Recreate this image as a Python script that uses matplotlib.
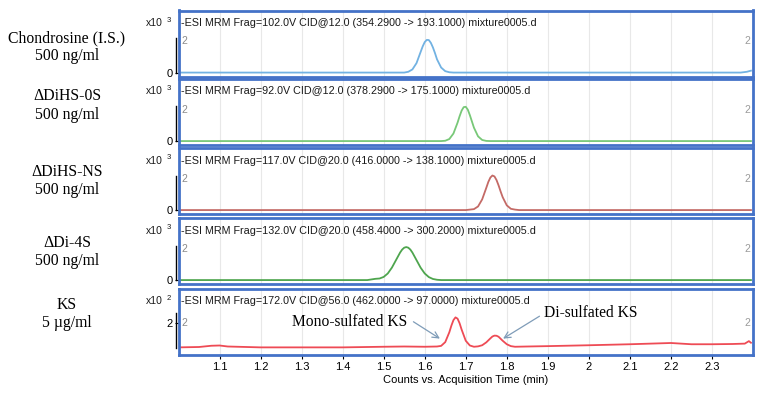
import matplotlib
matplotlib.use("Agg")
import matplotlib.pyplot as plt
import matplotlib.transforms as mtransforms

# ---------------- data ----------------
x_ticks = [1.1, 1.2, 1.3, 1.4, 1.5, 1.6, 1.7, 1.8, 1.9, 2.0, 2.1, 2.2, 2.3]
x_tick_labels = ["1.1", "1.2", "1.3", "1.4", "1.5", "1.6", "1.7", "1.8", "1.9", "2", "2.1", "2.2", "2.3"]

compound_names = ["Chondrosine (I.S.)", "\u0394DiHS-0S", "\u0394DiHS-NS", "\u0394Di-4S", "KS"]
concentrations = ["500 ng/ml", "500 ng/ml", "500 ng/ml", "500 ng/ml", "5 \u00b5g/ml"]
scan_titles = [
    "-ESI MRM Frag=102.0V CID@12.0 (354.2900 -> 193.1000) mixture0005.d",
    "-ESI MRM Frag=92.0V CID@12.0 (378.2900 -> 175.1000) mixture0005.d",
    "-ESI MRM Frag=117.0V CID@20.0 (416.0000 -> 138.1000) mixture0005.d",
    "-ESI MRM Frag=132.0V CID@20.0 (458.4000 -> 300.2000) mixture0005.d",
    "-ESI MRM Frag=172.0V CID@56.0 (462.0000 -> 97.0000) mixture0005.d",
]
scale_exponents = ["3", "3", "3", "3", "2"]

# chromatogram traces: time (min) and counts (x10^n)
chondrosine_t = [1.00, 1.55, 1.56, 1.57, 1.58, 1.59, 1.595, 1.60, 1.605, 1.61, 1.615, 1.62, 1.625, 1.63,
                 1.64, 1.65, 1.66, 1.67, 2.37, 2.385, 2.395]
chondrosine_y = [0.00, 0.00, 0.05, 0.20, 0.60, 1.31, 1.66, 1.94, 2.08, 2.07, 1.89, 1.60, 1.24, 0.84,
                 0.32, 0.09, 0.02, 0.00, 0.00, 0.05, 0.12]

dihs0s_t = [1.00, 1.64, 1.65, 1.66, 1.67, 1.68, 1.685, 1.69, 1.695, 1.70, 1.705, 1.71, 1.715, 1.72,
            1.73, 1.74, 1.75, 1.76, 2.395]
dihs0s_y = [0.00, 0.00, 0.02, 0.13, 0.48, 1.17, 1.58, 1.94, 2.16, 2.18, 2.00, 1.65, 1.25, 0.85,
            0.30, 0.07, 0.01, 0.00, 0.00]

dihsns_t = [1.00, 1.70, 1.71, 1.72, 1.73, 1.74, 1.75, 1.755, 1.76, 1.765, 1.77, 1.775, 1.78, 1.785,
            1.79, 1.80, 1.81, 1.82, 1.83, 2.395]
dihsns_y = [0.00, 0.00, 0.03, 0.06, 0.23, 0.68, 1.41, 1.79, 2.07, 2.20, 2.14, 1.91, 1.57, 1.18,
            0.82, 0.30, 0.08, 0.03, 0.00, 0.00]

di4s_t = [1.00, 1.46, 1.47, 1.48, 1.49, 1.50, 1.51, 1.52, 1.53, 1.54, 1.545, 1.55, 1.555, 1.56, 1.565,
          1.57, 1.58, 1.59, 1.60, 1.61, 1.62, 1.63, 1.64, 2.395]
di4s_y = [0.00, 0.00, 0.04, 0.08, 0.10, 0.20, 0.42, 0.79, 1.27, 1.75, 1.94, 2.06, 2.10, 2.06, 1.94,
          1.75, 1.27, 0.79, 0.42, 0.19, 0.07, 0.02, 0.00, 0.00]

ks_t = [1.00, 1.05, 1.08, 1.10, 1.12, 1.20, 1.30, 1.40, 1.50, 1.55, 1.60, 1.63, 1.64, 1.65, 1.66, 1.665,
        1.67, 1.675, 1.68, 1.685, 1.69, 1.70, 1.71, 1.72, 1.73, 1.74, 1.75, 1.76, 1.765, 1.77, 1.775,
        1.78, 1.79, 1.80, 1.81, 1.82, 1.85, 1.90, 2.00, 2.10, 2.20, 2.25, 2.30, 2.35, 2.38, 2.39, 2.395]
ks_y = [0.05, 0.08, 0.18, 0.20, 0.12, 0.05, 0.05, 0.05, 0.10, 0.12, 0.10, 0.12, 0.17, 0.47, 1.26, 1.79,
        2.23, 2.45, 2.35, 1.98, 1.47, 0.58, 0.20, 0.10, 0.13, 0.22, 0.45, 0.77, 0.92, 0.99, 0.98,
        0.90, 0.58, 0.30, 0.15, 0.10, 0.12, 0.15, 0.22, 0.30, 0.40, 0.30, 0.30, 0.32, 0.35, 0.55, 0.42]

traces = [(chondrosine_t, chondrosine_y), (dihs0s_t, dihs0s_y), (dihsns_t, dihsns_y),
          (di4s_t, di4s_y), (ks_t, ks_y)]
trace_colors = ["#72B2E2", "#78C878", "#C46A66", "#4EA54E", "#EE4B55"]

# ---------------- layout ----------------
W, H = 764, 398
fig = plt.figure(figsize=(W / 100, H / 100), dpi=100)
fig.patch.set_facecolor("white")

LEFT, RIGHT = 178.5, 753.0
tops = [10.5, 79.0, 148.0, 218.0, 289.0]
PH = 66.0
ylims = [(-0.25, 3.95)] * 4 + [(-0.56, 4.72)]
label_y = [(38, 56), (96, 115), (172, 190), (243, 261), (305, 323)]
frame_color = "#4472C8"

serif = ["Liberation Serif", "DejaVu Serif"]
sans = ["Liberation Sans", "DejaVu Sans"]

axes = []
for i in range(5):
    top = tops[i]
    ax = fig.add_axes([LEFT / W, 1 - (top + PH) / H, (RIGHT - LEFT) / W, PH / H])
    axes.append(ax)
    t, y = traces[i]
    ax.plot(t, y, color=trace_colors[i], lw=1.3, solid_joinstyle="round")
    ax.set_xlim(1.0, 2.4)
    ax.set_ylim(*ylims[i])
    for s in ax.spines.values():
        s.set_color(frame_color)
        s.set_linewidth(2.0)
    ax.set_xticks(x_ticks)
    ax.grid(axis="x", color="#E8E8E8", lw=0.8)
    ax.set_axisbelow(True)
    if i < 4:
        ax.tick_params(axis="x", length=0, labelbottom=False)
        ytick = 0
    else:
        ax.set_xticklabels(x_tick_labels, fontfamily=sans, fontsize=8)
        ax.tick_params(axis="x", length=3, width=0.8, color="black", pad=2)
        ytick = 2
    ax.set_yticks([ytick])
    ax.set_yticklabels([str(ytick)], fontfamily=sans, fontsize=8)
    ax.tick_params(axis="y", length=3, width=0.8, color="black", pad=1)

    # black left y-axis segment
    blend = mtransforms.blended_transform_factory(ax.transAxes, ax.transData)
    ybot, ytop = (0.0, 2.2) if i < 4 else (0.0, 2.8)
    ax.plot([-0.004, -0.004], [ybot, ytop], color="black", lw=1.0,
            transform=blend, clip_on=False)

    # inside grey "2" markers
    ax.text(0.005, 2, "2", transform=blend, fontsize=7.5, color="#8A8A8A",
            fontfamily=sans, va="center", ha="left")
    ax.text(0.9905, 2, "2", transform=blend, fontsize=7.5, color="#9A9A9A",
            fontfamily=sans, va="center", ha="center")

    # scan title
    ax.text(0.005, 1 - 12.5 / PH, scan_titles[i], transform=ax.transAxes,
            fontsize=7.75, fontfamily=sans, va="center", ha="left", color="#1A1A1A")
    # x10^n
    ax.text(-15.5 / (RIGHT - LEFT), 1 - 12.5 / PH, "x10", transform=ax.transAxes,
            fontsize=7.5, fontfamily=sans, va="center", ha="right", color="#1A1A1A")
    ax.text(-12.0 / (RIGHT - LEFT), 1 - 9.5 / PH, scale_exponents[i], transform=ax.transAxes,
            fontsize=5.5, fontfamily=sans, va="center", ha="left", color="#1A1A1A")

    # left compound labels
    fig.text(67 / W, 1 - label_y[i][0] / H, compound_names[i], fontfamily=serif,
             fontsize=11.3, ha="center", va="center")
    fig.text(67 / W, 1 - label_y[i][1] / H, concentrations[i], fontfamily=serif,
             fontsize=11.3, ha="center", va="center")

ks_ax = axes[4]
ks_ax.set_xlabel("Counts vs. Acquisition Time (min)", fontfamily=sans, fontsize=8, labelpad=2)

arrow_color = "#7F9CB8"
ks_ax.annotate("Mono-sulfated KS", xy=(1.637, 0.75), xytext=(1.418, 2.1),
               fontfamily=serif, fontsize=11.2, ha="center", va="center",
               arrowprops=dict(arrowstyle="->", color=arrow_color, lw=0.9,
                               shrinkA=0, shrinkB=0, relpos=(1.05, 0.5)))
ks_ax.annotate("Di-sulfated KS", xy=(1.791, 0.75), xytext=(2.005, 2.8),
               fontfamily=serif, fontsize=11.2, ha="center", va="center",
               arrowprops=dict(arrowstyle="->", color=arrow_color, lw=0.9,
                               shrinkA=0, shrinkB=0, relpos=(-0.05, 0.3)))

fig.savefig("out.png", dpi=100, facecolor="white")
